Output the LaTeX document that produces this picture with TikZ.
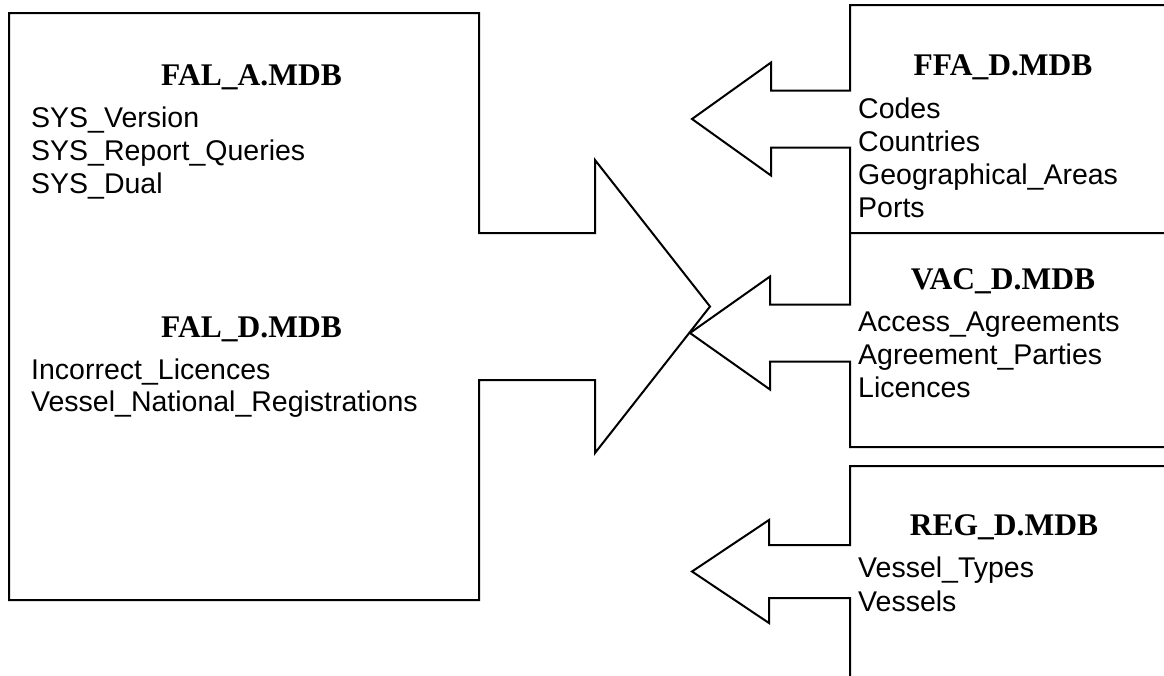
\documentclass[tikz,border=0pt]{standalone}
\usepackage{fontspec}
\setmainfont{Liberation Serif}
\setsansfont{Liberation Sans}
\begin{document}
\begin{tikzpicture}[x=1pt,y=-1pt,
  outline/.style={draw=black,line width=2pt,line join=miter},
  dbtitle/.style={anchor=base,inner sep=0pt,font=\fontsize{31.5}{36}\selectfont\bfseries\rmfamily},
  tblname/.style={anchor=base west,inner sep=0pt,font=\fontsize{28.5}{33}\selectfont\sffamily}]
\useasboundingbox (0,0) rectangle (1164,675);
\clip (0,0) rectangle (1164,675);

% arrow tips
\coordinate (bigtip) at (710,306.5);
\coordinate (ffatip) at (692,119);
\coordinate (vactip) at (690,333);
\coordinate (regtip) at (692,571.5);

% FAL box merged with the large arrow pointing right
\draw[outline] (9,13) -- (479,13) -- (479,233) -- (595,233) -- (595,160)
  -- (bigtip) -- (595,453) -- (595,380) -- (479,380) -- (479,600)
  -- (9,600) -- cycle;

% FFA box with its arrow
\draw[outline] (1170,5) -- (850,5) -- (850,90.5) -- (771,90.5) -- (771,62.5)
  -- (ffatip) -- (771,175.5) -- (771,147.5) -- (850,147.5) -- (850,233)
  -- (1170,233);

% VAC box with its arrow
\draw[outline] (850,233) -- (850,304.5) -- (770,304.5) -- (770,276.5)
  -- (vactip) -- (770,389.5) -- (770,361.5) -- (850,361.5) -- (850,447)
  -- (1170,447);

% REG box with its arrow
\draw[outline] (1170,466) -- (850,466) -- (850,545) -- (769,545) -- (769,520)
  -- (regtip) -- (769,623) -- (769,598) -- (850,598) -- (850,690);

% FAL_A.MDB
\node[dbtitle] (fala) at (251.5,85) {FAL\_A.MDB};
\node[tblname] (fala1) at (31,127) {SYS\_Version};
\node[tblname] (fala2) at (31,160) {SYS\_Report\_Queries};
\node[tblname] (fala3) at (31,193) {SYS\_Dual};

% FAL_D.MDB
\node[dbtitle] (fald) at (251.5,337) {FAL\_D.MDB};
\node[tblname] (fald1) at (31,379) {Incorrect\_Licences};
\node[tblname] (fald2) at (31,411) {Vessel\_National\_Registrations};

% FFA_D.MDB
\node[dbtitle] (ffa) at (1003,75) {FFA\_D.MDB};
\node[tblname] (ffa1) at (858,118) {Codes};
\node[tblname] (ffa2) at (858,151) {Countries};
\node[tblname] (ffa3) at (858,184) {Geographical\_Areas};
\node[tblname] (ffa4) at (858,217) {Ports};

% VAC_D.MDB
\node[dbtitle] (vac) at (1003,289) {VAC\_D.MDB};
\node[tblname] (vac1) at (858,331) {Access\_Agreements};
\node[tblname] (vac2) at (858,364) {Agreement\_Parties};
\node[tblname] (vac3) at (858,397) {Licences};

% REG_D.MDB
\node[dbtitle] (reg) at (1004,535) {REG\_D.MDB};
\node[tblname] (reg1) at (858,577) {Vessel\_Types};
\node[tblname] (reg2) at (858,611) {Vessels};
\end{tikzpicture}
\end{document}
